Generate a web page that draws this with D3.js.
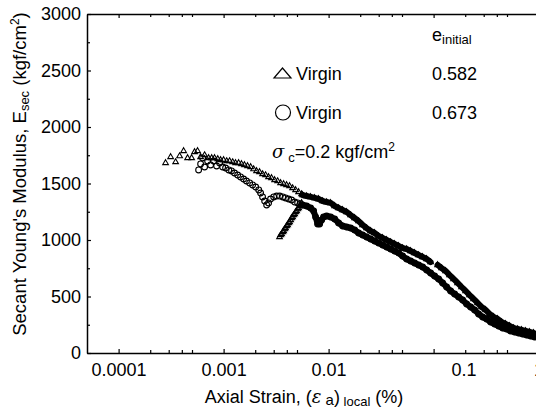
<!DOCTYPE html>
<html>
<head>
<meta charset="utf-8">
<script src="https://cdn.jsdelivr.net/npm/d3@7"></script>
<style>
  html, body { margin: 0; padding: 0; background: #fff; }
  svg { display: block; }
  text { font-family: "Liberation Sans", Arial, Helvetica, sans-serif; fill: #000; }
</style>
</head>
<body>
<svg id="chart" width="536" height="410"></svg>
<script>
// ---------------- DATA ----------------
const xMajorTicks = [0.0001, 0.001, 0.01, 0.1, 1];
const xMajorLabels = ["0.0001", "0.001", "0.01", "0.1", "1"];
const xMinorTicks = [0.0002, 0.0003, 0.0004, 0.0005, 0.002, 0.003, 0.004, 0.005,
                     0.02, 0.03, 0.04, 0.05, 0.2, 0.3, 0.4, 0.5];
const yMajorTicks = [0, 500, 1000, 1500, 2000, 2500, 3000];
const yMinorTicks = [250, 750, 1250, 1750, 2250, 2750];

const legendRows = [
  { marker: "triangle", label: "Virgin", e: "0.582" },
  { marker: "circle",   label: "Virgin", e: "0.673" }
];

// Triangle series (e_initial = 0.582): [axial strain (%), Esec (kgf/cm2)]
const triStart = [[0.00028,1682],[0.000313,1735],[0.000349,1690],[0.000381,1743],[0.000416,1788],
  [0.000454,1726],[0.000496,1726],[0.000529,1779],[0.000565,1788],[0.000604,1735],[0.000659,1752],[0.00072,1726]];
const triBranch = [[0.00077,1726],[0.00082,1726],[0.00088,1717],[0.000936,1708],[0.001,1708],[0.00107,1699],
  [0.00114,1699],[0.00122,1690],[0.0013,1682],[0.00139,1682],[0.00148,1673],[0.00158,1664],[0.00169,1655],
  [0.00181,1646],[0.00193,1628],[0.00206,1611],[0.0022,1602],[0.00235,1584],[0.00251,1575],[0.00268,1558],
  [0.00286,1549],[0.00306,1531],[0.00327,1522],[0.00349,1505],[0.00373,1496],[0.00398,1487],[0.00425,1478],
  [0.00454,1460],[0.00485,1443],[0.00518,1425],[0.00553,1407]];
const triBand = [[0.00341,1027],[0.00349,1044],[0.00357,1053],[0.00366,1071],[0.00373,1080],[0.00381,1097],
  [0.00389,1106],[0.00398,1124],[0.00407,1133],[0.00416,1151],[0.00425,1159],[0.00435,1177],[0.00444,1195],
  [0.00454,1204],[0.00464,1221],[0.00475,1230],[0.00485,1248],[0.00496,1257],[0.00507,1274],[0.00518,1283],
  [0.0053,1301],[0.00541,1310],[0.00553,1328]];
const triDenseA = [[0.00565,1398],[0.00617,1389],[0.00674,1381],[0.00736,1372],[0.00803,1363],[0.00877,1345],
  [0.00957,1336],[0.01045,1328],[0.01141,1301],[0.01245,1283],[0.01359,1266],[0.01484,1248],[0.0162,1221],
  [0.01768,1195],[0.01931,1168],[0.02108,1133],[0.02301,1106],[0.02512,1080],[0.02742,1062],[0.02994,1035],
  [0.03268,1018],[0.03568,1000],[0.03895,982],[0.04252,965],[0.04642,947],[0.05067,929],[0.05532,920],
  [0.06039,903],[0.06592,885],[0.07197,867],[0.07857,850],[0.08577,832],[0.09364,805]];
const triDenseB = [[0.1092,779],[0.1192,752],[0.1301,726],[0.142,690],[0.1551,655],[0.1693,620],[0.1848,584],
  [0.2018,549],[0.2202,513],[0.2404,478],[0.2624,443],[0.2865,407],[0.3128,381],[0.3415,345],[0.3728,319],
  [0.407,301],[0.4443,274],[0.485,257],[0.5295,239],[0.578,221],[0.631,212],[0.6889,204],[0.752,195],
  [0.8209,186],[0.8962,177],[0.9572,168]];

// Circle series (e_initial = 0.673)
const cirStart = [[0.000578,1620],[0.000604,1673],[0.000631,1726],[0.000659,1646],[0.000704,1699],
  [0.000752,1664],[0.000803,1699],[0.000858,1655],[0.000916,1682],[0.000979,1646]];
const cirBranch = [[0.001044,1637],[0.00112,1620],[0.00119,1611],[0.00127,1593],[0.00136,1575],[0.00145,1558],
  [0.00155,1540],[0.00165,1522],[0.00177,1505],[0.00189,1487],[0.00202,1469],[0.00216,1443],[0.00225,1416],
  [0.00235,1381],[0.00246,1345],[0.00257,1310],[0.00268,1328],[0.0028,1363],[0.003,1381],[0.0032,1389],
  [0.00342,1389],[0.00366,1381],[0.00389,1372],[0.00416,1363],[0.00444,1354],[0.00475,1336],[0.00507,1328],
  [0.00541,1319]];
const cirDense = [[0.00565,1310],[0.00617,1301],[0.00674,1283],[0.0072,1257],[0.00752,1204],[0.00786,1142],
  [0.00821,1142],[0.00858,1177],[0.00896,1204],[0.00957,1212],[0.01045,1204],[0.01141,1186],[0.01245,1151],
  [0.01359,1124],[0.01484,1115],[0.0162,1106],[0.01768,1089],[0.01931,1062],[0.02108,1044],[0.02301,1027],
  [0.02512,1009],[0.02742,991],[0.02994,974],[0.03268,956],[0.03568,938],[0.03895,920],[0.04252,903],
  [0.04642,885],[0.05067,858],[0.05532,832],[0.06039,814],[0.06592,797],[0.07197,779],[0.07857,761],
  [0.08577,735],[0.09364,708],[0.1022,681],[0.1116,655],[0.1218,620],[0.133,584],[0.1452,549],[0.1585,522],
  [0.173,496],[0.1889,469],[0.2062,434],[0.2251,407],[0.2458,381],[0.2683,345],[0.2929,319],[0.3197,301],
  [0.349,274],[0.3811,257],[0.416,239],[0.4541,221],[0.4957,212],[0.5412,195],[0.5908,186],[0.6449,177],
  [0.7041,168],[0.7686,159],[0.839,150],[0.9161,142]];

// ---------------- CHART ----------------
const svg = d3.select("#chart");
const plotLeft = 87, plotTop = 14, plotBottom = 353;
const x = d3.scaleLog().domain([0.00005, 1]).range([plotLeft, plotLeft + 105 * Math.log10(1 / 0.00005)]);
const y = d3.scaleLinear().domain([0, 3000]).range([plotBottom, plotTop]);
const plotRight = x.range()[1];

const fontSize = 18;

// Axes
const gx = svg.append("g").attr("transform", `translate(0,${plotBottom})`)
  .call(d3.axisBottom(x).tickValues(xMajorTicks)
    .tickFormat((d, i) => xMajorLabels[i]).tickSizeInner(-4).tickSizeOuter(0).tickPadding(10));
gx.selectAll(".tick text").filter(d => d === 0.1).attr("dx", 30);
svg.append("g").attr("transform", `translate(0,${plotBottom})`)
  .call(d3.axisBottom(x).tickValues(xMinorTicks).tickFormat("").tickSizeInner(-3).tickSizeOuter(0))
  .select(".domain").remove();
svg.append("g").attr("transform", `translate(0,${plotTop})`)
  .call(d3.axisTop(x).tickValues(xMajorTicks).tickFormat("").tickSizeInner(-4).tickSizeOuter(0));
svg.append("g").attr("transform", `translate(0,${plotTop})`)
  .call(d3.axisTop(x).tickValues(xMinorTicks).tickFormat("").tickSizeInner(-3).tickSizeOuter(0))
  .select(".domain").remove();
svg.append("g").attr("transform", `translate(${plotLeft},0)`)
  .call(d3.axisLeft(y).tickValues(yMajorTicks).tickFormat(d3.format("d"))
    .tickSizeInner(-4).tickSizeOuter(0).tickPadding(6));
svg.append("g").attr("transform", `translate(${plotLeft},0)`)
  .call(d3.axisLeft(y).tickValues(yMinorTicks).tickFormat("").tickSizeInner(-3).tickSizeOuter(0))
  .select(".domain").remove();

svg.selectAll(".domain").attr("stroke", "#000").attr("stroke-width", 1.5);
svg.selectAll(".tick line").attr("stroke", "#000").attr("stroke-width", 1.2);
svg.selectAll(".tick text").attr("font-size", fontSize)
  .attr("font-family", "'Liberation Sans', Arial, Helvetica, sans-serif").attr("fill", "#000");

// Clip to plot area
svg.append("clipPath").attr("id", "plotclip").append("rect")
  .attr("x", plotLeft).attr("y", plotTop).attr("width", plotRight - plotLeft).attr("height", plotBottom - plotTop);
const plot = svg.append("g").attr("clip-path", "url(#plotclip)");

// Dense runs: overlapping markers merge into solid bands
const line = d3.line().x(d => x(d[0])).y(d => y(d[1]));
[triDenseA, triDenseB, cirDense].forEach(seg => {
  plot.append("path").datum(seg).attr("d", line)
    .attr("fill", "none").attr("stroke", "#000").attr("stroke-width", 6)
    .attr("stroke-linejoin", "round").attr("stroke-linecap", "round");
});

// Markers
const tri = d3.symbol().type(d3.symbolTriangle).size(14);
const triPoints = [].concat(triStart, triBranch, triBand, triDenseA, triDenseB);
const cirPoints = [].concat(cirStart, cirBranch, cirDense);

plot.append("g").selectAll("circle").data(cirPoints).join("circle")
  .attr("cx", d => x(d[0])).attr("cy", d => y(d[1])).attr("r", 2.9)
  .attr("fill", "none").attr("stroke", "#000").attr("stroke-width", 1.1);
plot.append("g").selectAll("path").data(triPoints).join("path")
  .attr("d", tri).attr("transform", d => `translate(${x(d[0])},${y(d[1])})`)
  .attr("fill", "none").attr("stroke", "#000").attr("stroke-width", 1.1);

// Legend
const lg = svg.append("g").attr("font-size", fontSize);
lg.append("text").attr("x", 432).attr("y", 41)
  .call(t => { t.append("tspan").text("e");
               t.append("tspan").attr("font-size", 13).attr("dy", 3).text("initial"); });
const rowY = [80, 119];
legendRows.forEach((r, i) => {
  const cy = rowY[i] - 6.5;
  if (r.marker === "triangle") {
    lg.append("path").attr("d", `M274,${rowY[i] - 2}L291,${rowY[i] - 2}L282.5,${rowY[i] - 12}Z`)
      .attr("fill", "none").attr("stroke", "#000").attr("stroke-width", 1.2);
  } else {
    lg.append("circle").attr("cx", 283).attr("cy", cy).attr("r", 7.5)
      .attr("fill", "none").attr("stroke", "#000").attr("stroke-width", 1.2);
  }
  lg.append("text").attr("x", 296).attr("y", rowY[i]).text(r.label);
  lg.append("text").attr("x", 432).attr("y", rowY[i]).text(r.e);
});
lg.append("text").attr("x", 272).attr("y", 158)
  .call(t => {
    t.append("tspan").attr("font-style", "italic").attr("font-family", "'DejaVu Serif', serif").text("σ");
    t.append("tspan").attr("font-size", 13).attr("dy", 4).attr("dx", 4).text("c");
    t.append("tspan").attr("dy", -4).text("=0.2 kgf/cm");
    t.append("tspan").attr("font-size", 12).attr("dy", -7).text("2");
  });

// Axis titles
svg.append("text").attr("font-size", 18.5).attr("text-anchor", "middle")
  .attr("transform", "translate(26,174) rotate(-90)")
  .call(t => {
    t.append("tspan").text("Secant Young's Modulus, E");
    t.append("tspan").attr("font-size", 13).attr("dy", 3).text("sec");
    t.append("tspan").attr("dy", -3).text(" (kgf/cm");
    t.append("tspan").attr("font-size", 12).attr("dy", -7).text("2");
    t.append("tspan").attr("dy", 7).text(")");
  });
svg.append("text").attr("font-size", fontSize).attr("text-anchor", "middle")
  .attr("x", 304).attr("y", 403)
  .call(t => {
    t.append("tspan").text("Axial Strain, (");
    t.append("tspan").attr("font-style", "italic").attr("font-family", "'DejaVu Serif', serif").text("ε");
    t.append("tspan").attr("font-size", 15).attr("dy", 2).text(" a");
    t.append("tspan").attr("dy", -2).text(")");
    t.append("tspan").attr("font-size", 13).attr("dy", 3).text(" local");
    t.append("tspan").attr("dy", -3).text(" (%)");
  });
</script>
</body>
</html>
